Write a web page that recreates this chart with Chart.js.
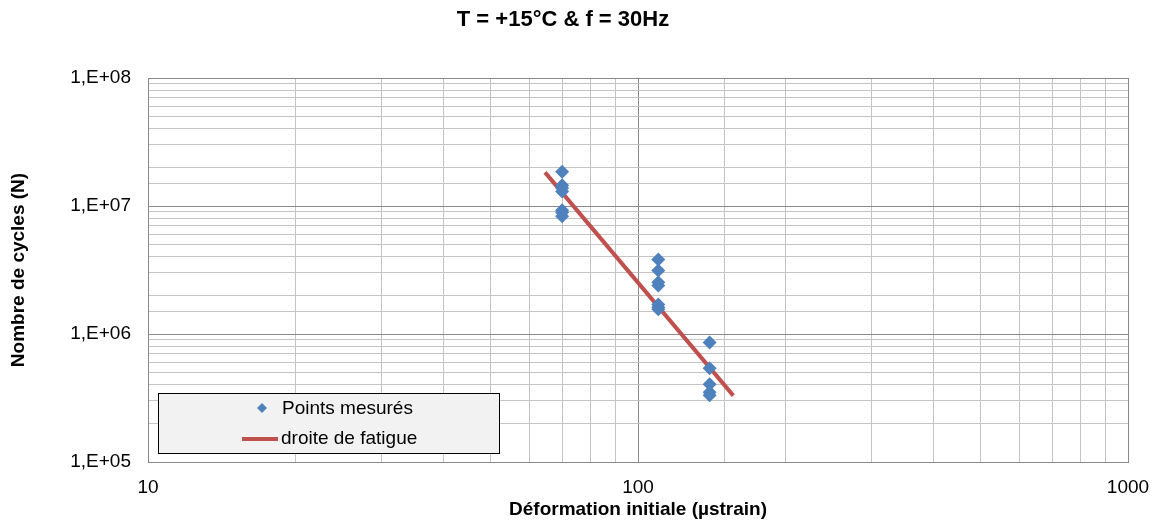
<!DOCTYPE html>
<html>
<head>
<meta charset="utf-8">
<script src="https://cdn.jsdelivr.net/npm/chart.js@4/dist/chart.umd.min.js"></script>
<style>
  html, body { margin:0; padding:0; background:#fff; }
</style>
</head>
<body>
<canvas id="fatigueChart" width="1153" height="529"></canvas>
<script>
// ===== Data =====
const chartTitle = 'T = +15°C & f = 30Hz';
const xTitle = 'Déformation initiale (µstrain)';
const yTitle = 'Nombre de cycles (N)';

// measured points (strain, cycles)
const strainMeasured = [70, 70, 70, 70, 70, 70, 70,
                        110, 110, 110, 110, 110, 110, 110,
                        140, 140, 140, 140, 140];
const cyclesMeasured = [1.85e7, 1.45e7, 1.38e7, 1.30e7, 9.25e6, 8.9e6, 8.3e6,
                        3.82e6, 3.13e6, 2.54e6, 2.39e6, 1.70e6, 1.62e6, 1.56e6,
                        8.57e5, 5.4e5, 4.05e5, 3.51e5, 3.33e5];

// fatigue line end points
const strainLine = [64.6, 156.5];
const cyclesLine = [1.83e7, 3.3e5];

const xTicks = [10, 100, 1000];
const yTicks = ['1,E+05', '1,E+06', '1,E+07', '1,E+08'];

const blue = '#4f81bd';
const red = '#c0504d';

Chart.defaults.font.family = "'Liberation Sans', Arial, sans-serif";
Chart.defaults.color = '#000';

function isPow10(v){
  const l = Math.log10(v);
  return Math.abs(l - Math.round(l)) < 1e-9;
}
function gridColor(ctx){
  return ctx.tick && isPow10(ctx.tick.value) ? '#888888' : '#c4c4c4';
}

// ===== Title + legend drawn inside the plot =====
const extras = {
  id: 'extras',
  afterDraw(chart){
    const c = chart.ctx;
    c.save();
    c.fillStyle = '#000';
    c.font = "bold 22px 'Liberation Sans', Arial, sans-serif";
    c.textAlign = 'center';
    c.textBaseline = 'middle';
    c.fillText(chartTitle, 563, 20);

    // legend box
    c.fillStyle = '#f2f2f2';
    c.fillRect(158.5, 393.5, 341, 60);
    c.strokeStyle = '#000';
    c.lineWidth = 1;
    c.strokeRect(158.5, 393.5, 341, 60);

    const ds = chart.data.datasets;
    c.font = "19px 'Liberation Sans', Arial, sans-serif";
    c.textAlign = 'left';
    c.fillStyle = ds[0].backgroundColor;
    c.beginPath();
    c.moveTo(262, 403); c.lineTo(267, 408); c.lineTo(262, 413); c.lineTo(257, 408);
    c.closePath();
    c.fill();
    c.fillStyle = '#000';
    c.fillText(ds[0].label, 282, 409);

    c.strokeStyle = ds[1].borderColor;
    c.lineWidth = 4;
    c.beginPath();
    c.moveTo(242, 439); c.lineTo(278, 439);
    c.stroke();
    c.fillText(ds[1].label, 281, 439);
    c.restore();
  }
};

// ===== Chart =====
const ctx = document.getElementById('fatigueChart').getContext('2d');
new Chart(ctx, {
  type: 'scatter',
  data: {
    datasets: [
      {
        label: 'Points mesurés',
        data: strainMeasured.map((x, i) => ({ x: x, y: cyclesMeasured[i] })),
        backgroundColor: blue,
        borderColor: blue,
        pointStyle: 'rectRot',
        pointRadius: 7,
        borderWidth: 0,
        order: 1
      },
      {
        label: 'droite de fatigue',
        data: strainLine.map((x, i) => ({ x: x, y: cyclesLine[i] })),
        type: 'line',
        showLine: true,
        borderColor: red,
        backgroundColor: red,
        borderWidth: 4,
        pointRadius: 0,
        order: 2
      }
    ]
  },
  options: {
    responsive: false,
    animation: false,
    layout: { padding: { top: 78, right: 25, left: 0, bottom: 0 } },
    plugins: {
      legend: { display: false },
      title: { display: false },
      tooltip: { enabled: false }
    },
    scales: {
      x: {
        type: 'logarithmic',
        min: 10, max: 1000,
        afterFit: s => { s.height = 67; s.paddingLeft = 0; s.paddingRight = 0; },
        border: { color: '#888888' },
        grid: { color: gridColor, drawTicks: false },
        ticks: {
          autoSkip: false, maxRotation: 0, padding: 14,
          font: { size: 19 },
          callback: v => xTicks.includes(v) ? String(v) : ''
        },
        title: {
          display: true, text: xTitle,
          font: { size: 19, weight: 'bold' },
          padding: { top: 0, bottom: 8 }
        }
      },
      y: {
        type: 'logarithmic',
        min: 1e5, max: 1e8,
        afterFit: s => { s.width = 148; s.paddingTop = 0; s.paddingBottom = 0; },
        border: { color: '#888888' },
        grid: { color: gridColor, drawTicks: false },
        ticks: {
          autoSkip: false, padding: 17,
          font: { size: 19 },
          callback: v => isPow10(v) ? yTicks[Math.round(Math.log10(v)) - 5] : ''
        },
        title: {
          display: true, text: yTitle,
          font: { size: 19, weight: 'bold' },
          padding: { top: 7, bottom: 0 }
        }
      }
    }
  },
  plugins: [extras]
});
</script>
</body>
</html>
